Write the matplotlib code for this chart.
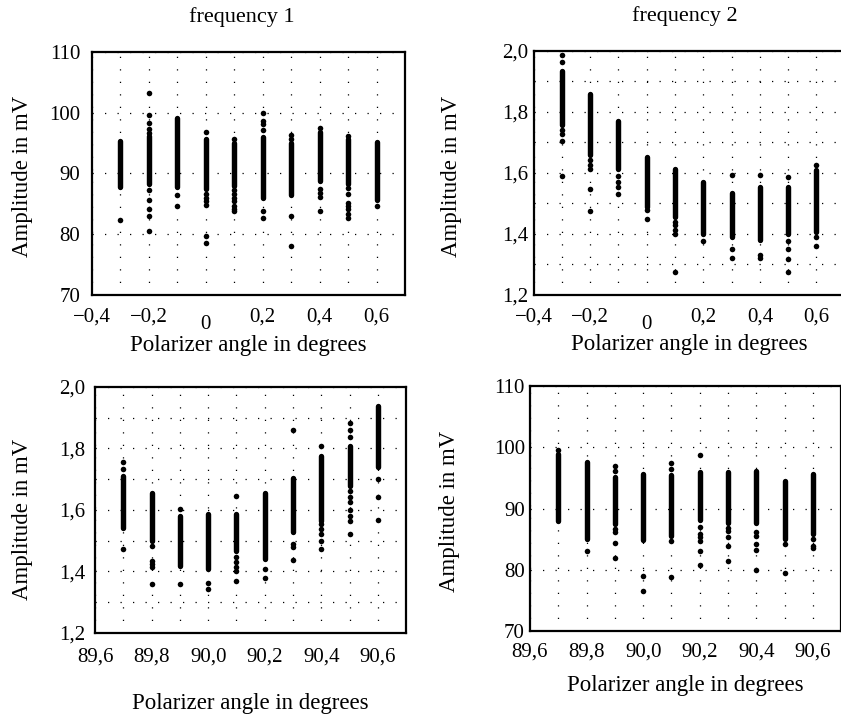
import matplotlib.pyplot as plt
from matplotlib.ticker import FixedLocator

plt.rcParams['font.family'] = ['Liberation Serif', 'DejaVu Serif']

# polarizer settings, degrees
x_near0 = [-0.3, -0.2, -0.1, 0.0, 0.1, 0.2, 0.3, 0.4, 0.5, 0.6]
x_near90 = [89.7, 89.8, 89.9, 90.0, 90.1, 90.2, 90.3, 90.4, 90.5, 90.6]

# frequency 1 around 0 deg: dense band (low/high) and isolated readings, mV
f1_0_lo = [87.8, 88.2, 87.7, 87.4, 88.0, 86.0, 86.4, 88.8, 88.2, 85.7]
f1_0_hi = [95.4, 96.1, 99.2, 95.7, 95.0, 96.0, 95.0, 96.9, 95.6, 95.2]
f1_0_pts = [
    [82.3],
    [103.2, 99.6, 98.3, 97.3, 96.6, 87.2, 85.7, 84.1, 83.0, 80.5],
    [86.4, 84.6],
    [96.9, 86.7, 86.0, 85.4, 84.8, 79.7, 78.5],
    [95.7, 87.2, 86.6, 86.0, 85.4, 84.6, 84.2, 83.8],
    [100.0, 98.6, 98.2, 97.1, 83.9, 82.7],
    [96.4, 95.7, 83.0, 78.0],
    [97.5, 87.4, 86.8, 86.2, 83.9],
    [96.1, 87.6, 86.6, 85.2, 84.6, 84.1, 83.4, 82.7],
    [84.6],
]

# frequency 2 around 0 deg
f2_0_lo = [1.756, 1.660, 1.614, 1.490, 1.456, 1.400, 1.390, 1.380, 1.400, 1.407]
f2_0_hi = [1.934, 1.860, 1.770, 1.652, 1.614, 1.571, 1.533, 1.554, 1.554, 1.609]
f2_0_pts = [
    [1.986, 1.964, 1.740, 1.729, 1.705, 1.589],
    [1.642, 1.625, 1.614, 1.549, 1.475],
    [1.590, 1.570, 1.554, 1.530],
    [1.478, 1.450],
    [1.440, 1.428, 1.412, 1.400, 1.275],
    [1.376],
    [1.595, 1.350, 1.322],
    [1.592, 1.330, 1.320],
    [1.587, 1.376, 1.350, 1.317, 1.275],
    [1.625, 1.390, 1.360],
]

# frequency 2 around 90 deg
f2_90_lo = [1.541, 1.500, 1.418, 1.408, 1.467, 1.440, 1.527, 1.565, 1.679, 1.739]
f2_90_hi = [1.712, 1.654, 1.580, 1.587, 1.587, 1.654, 1.704, 1.777, 1.807, 1.937]
f2_90_pts = [
    [1.755, 1.734, 1.473],
    [1.484, 1.435, 1.424, 1.415, 1.359],
    [1.603, 1.359],
    [1.364, 1.342],
    [1.647, 1.446, 1.430, 1.413, 1.402, 1.370],
    [1.408, 1.378],
    [1.859, 1.489, 1.478, 1.437],
    [1.807, 1.554, 1.538, 1.522, 1.500, 1.473],
    [1.883, 1.859, 1.837, 1.663, 1.641, 1.625, 1.600, 1.582, 1.565, 1.522],
    [1.701, 1.641, 1.567],
]

# frequency 1 around 90 deg
f1_90_lo = [88.0, 85.0, 87.4, 84.85, 85.5, 88.2, 87.7, 87.7, 85.0, 85.8]
f1_90_hi = [98.9, 97.6, 95.1, 95.6, 95.4, 95.9, 96.0, 96.2, 94.5, 95.6]
f1_90_pts = [
    [99.6],
    [83.0],
    [96.9, 96.2, 86.6, 86.1, 84.4, 81.9],
    [79.0, 76.5],
    [97.5, 96.4, 84.7, 78.8],
    [98.7, 87.0, 85.9, 85.3, 84.7, 83.0, 80.8],
    [86.9, 86.3, 85.3, 83.9, 81.4],
    [86.1, 85.5, 84.2, 83.3, 79.9],
    [84.2, 79.4],
    [85.0, 83.9, 83.5],
]

xt_near0 = [-0.4, -0.2, 0.0, 0.2, 0.4, 0.6]
xl_near0 = ['\u22120,4', '\u22120,2', '0', '0,2', '0,4', '0,6']
xt_near90 = [89.6, 89.8, 90.0, 90.2, 90.4, 90.6]
xl_near90 = ['89,6', '89,8', '90,0', '90,2', '90,4', '90,6']
yt_mv = [70, 80, 90, 100, 110]
yl_mv = ['70', '80', '90', '100', '110']
yt_small = [1.2, 1.4, 1.6, 1.8, 2.0]
yl_small = ['1,2', '1,4', '1,6', '1,8', '2,0']
ygrid_small = [1.2, 1.3, 1.4, 1.5, 1.6, 1.7, 1.8, 1.9, 2.0]

fig = plt.figure(figsize=(8.41, 7.17), dpi=100)


def panel(rect, xs, lo, hi, pts, xlim, xt, xl, yt, yl, yminor, xpad, ypad,
          xlab_y, ylab_x, ylab_y):
    ax = fig.add_axes(rect)
    # dense part of each column as a thick round-capped stroke
    bands = ax.vlines(xs, lo, hi, colors='k', linewidth=3.9)
    bands.set_capstyle('round')
    for x, p in zip(xs, pts):
        ax.plot([x] * len(p), p, 'o', color='k', ms=4.0, mew=0)
    ax.set_xlim(*xlim)
    ax.set_ylim(yt[0], yt[-1])
    ax.set_xticks(xt)
    ax.set_xticklabels(xl)
    ax.set_yticks(yt)
    ax.set_yticklabels(yl)
    step = 0.1
    ax.xaxis.set_minor_locator(FixedLocator(
        [round(xlim[0] + step * i, 2) for i in range(int(round((xlim[1] - xlim[0]) / step)) + 1)]))
    if yminor is not None:
        ax.yaxis.set_minor_locator(FixedLocator(yminor))
    ax.grid(which='both', color='k', linestyle=(0, (1, 9)), linewidth=0.9)
    ax.set_axisbelow(True)
    ax.tick_params(which='both', length=0, labelsize=15)
    ax.tick_params(axis='x', pad=xpad)
    ax.tick_params(axis='y', pad=ypad)
    for s in ax.spines.values():
        s.set_linewidth(1.6)
    ax.set_xlabel('Polarizer angle in degrees', fontsize=16.5)
    ax.set_ylabel('Amplitude in mV', fontsize=16.5)
    ax.xaxis.set_label_coords(0.5, xlab_y)
    ax.yaxis.set_label_coords(ylab_x, ylab_y)
    return ax


ax1 = panel([0.1094, 0.5886, 0.3722, 0.3389], x_near0, f1_0_lo, f1_0_hi, f1_0_pts,
            (-0.4, 0.7), xt_near0, xl_near0, yt_mv, yl_mv, None, 9.0, 8.6,
            -0.165, -0.188, 0.49)
ax2 = panel([0.6345, 0.5886, 0.3700, 0.3403], x_near0, f2_0_lo, f2_0_hi, f2_0_pts,
            (-0.4, 0.7), xt_near0, xl_near0, yt_small, yl_small, ygrid_small, 9.0, 3.6,
            -0.16, -0.23, 0.485)
ax3 = panel([0.1130, 0.1172, 0.3700, 0.3431], x_near90, f2_90_lo, f2_90_hi, f2_90_pts,
            (89.6, 90.7), xt_near90, xl_near90, yt_small, yl_small, ygrid_small, 10.8, 7.0,
            -0.244, -0.2, 0.46)
ax4 = panel([0.6302, 0.1199, 0.3700, 0.3417], x_near90, f1_90_lo, f1_90_hi, f1_90_pts,
            (89.6, 90.7), xt_near90, xl_near90, yt_mv, yl_mv, None, 8.0, 3.6,
            -0.18, -0.225, 0.49)

# the plain "0" label sits a little lower than the others
for ax in (ax1, ax2):
    ax.xaxis.get_major_ticks()[2].set_pad(14.5)

ax1.set_title('frequency 1', fontsize=16, x=0.479, pad=21.8)
ax2.set_title('frequency 2', fontsize=16, x=0.487, pad=21.8)

fig.savefig('out.png', dpi=100)
